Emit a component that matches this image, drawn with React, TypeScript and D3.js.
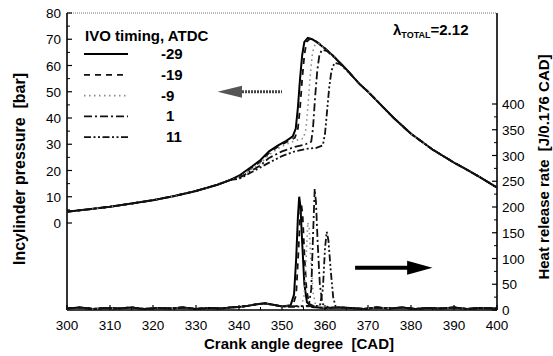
import React from 'react';
import * as d3 from 'd3';

type Pt = [number, number];

// Legend / series labels (IVO timing, ATDC)
const ivoLabels = ['-29', '-19', '-9', '1', '11'];

// X ticks (CAD)
const xTicks = [300, 310, 320, 330, 340, 350, 360, 370, 380, 390, 400];
const pTicks = [0, 10, 20, 30, 40, 50, 60, 70, 80];
const hTicks = [0, 50, 100, 150, 200, 250, 300, 350, 400];

// Cylinder pressure [bar], shared compression part
const pCompression: Pt[] = [
  [300, 4.3], [305, 5.2], [310, 6.2], [315, 7.4], [320, 8.7], [325, 10.3], [330, 12.2], [335, 14.6], [338, 16.4],
];
// Shared expansion part
const pExpansion: Pt[] = [
  [368, 53], [370, 50], [373, 45], [376, 40], [380, 34], [385, 28], [390, 23], [393, 20.3], [396, 17.5], [400, 13.5],
];
const pM29: Pt[] = [
  [340, 18], [343, 21.5], [345, 24], [347, 27.3], [349, 29.5], [351, 31.3], [352.5, 33], [353.2, 36], [353.7, 44],
  [354.2, 55], [354.7, 64], [355.2, 69], [356, 70.5], [357, 70], [358, 69], [360, 66.5], [362, 63.5], [365, 58.5],
];
const pM19: Pt[] = [
  [340, 17.7], [343, 21], [345, 23.4], [347, 26.7], [349, 29], [351, 30.8], [353, 32.5], [353.7, 36], [354.2, 44],
  [354.7, 55], [355.2, 64], [355.7, 69], [356.5, 70.2], [357.5, 69.6], [358.5, 68.6], [360, 66.5], [362, 63.5], [365, 58.5],
];
const pM9: Pt[] = [
  [340, 17.4], [343, 20.6], [345, 22.8], [347, 26], [349, 28.3], [351, 30], [353, 31.3], [355, 32.3], [355.6, 36],
  [356.1, 46], [356.6, 57], [357.1, 65], [357.7, 68], [358.5, 68.3], [360, 66.3], [362, 63.5], [365, 58.5],
];
const pP1: Pt[] = [
  [340, 17.1], [343, 20], [345, 22], [347, 24.8], [350, 27.3], [353, 29], [355.5, 30], [356.8, 31], [357.2, 36],
  [357.7, 48], [358.2, 58], [358.7, 64], [359.3, 66], [360.5, 65.5], [362, 63.3], [365, 58.5],
];
const pP11: Pt[] = [
  [340, 16.8], [343, 19.4], [345, 21.2], [347, 23], [350, 25.5], [353, 27.3], [356, 28.3], [358, 28.6], [359.5, 29.6],
  [360, 34], [360.5, 43], [361, 52], [361.5, 58], [362.2, 61], [363.5, 60.5], [365, 58.3],
];

// Heat release rate [J/0.176 CAD]
const hrBefore: Pt[] = [
  [300, 3], [303, 5], [306, 2], [309, 4], [312, 3], [315, 5], [318, 2], [321, 4], [324, 3], [327, 5], [330, 2],
  [333, 4], [336, 3], [338, 5], [340, 6], [342, 8], [344, 11], [346, 13], [348, 10], [350, 7],
];
const hrAfter: Pt[] = [
  [366, 4], [369, 2], [372, 5], [375, 3], [378, 5], [381, 2], [384, 4], [387, 3], [390, 5], [393, 2], [396, 4], [400, 3],
];
const hM29: Pt[] = [
  [352, 9], [352.8, 30], [353.3, 100], [353.7, 180], [354.0, 220], [354.3, 200], [354.7, 130], [355.2, 50], [355.8, 15],
  [357, 6], [360, 4], [363, 5],
];
const hM19: Pt[] = [
  [352.5, 8], [353.3, 30], [353.8, 110], [354.2, 180], [354.5, 205], [354.8, 185], [355.2, 110], [355.7, 40], [356.3, 12],
  [358, 5], [361, 4], [363, 5],
];
const hM9: Pt[] = [
  [352, 8], [354.5, 8], [355.2, 30], [355.6, 100], [356.0, 170], [356.3, 160], [356.7, 100], [357.2, 35], [357.8, 10],
  [360, 4], [363, 5],
];
const hP1: Pt[] = [
  [352, 7], [356.2, 8], [356.8, 40], [357.2, 140], [357.6, 235], [357.9, 210], [358.3, 130], [358.8, 50], [359.4, 12],
  [361, 4], [363, 5],
];
const hP11: Pt[] = [
  [352, 6], [358.8, 8], [359.5, 40], [360.0, 120], [360.4, 152], [360.8, 135], [361.3, 80], [361.9, 25], [362.5, 6],
  [363, 5],
];

const pressureSeries = [pM29, pM19, pM9, pP1, pP11];
const heatSeries = [hM29, hM19, hM9, hP1, hP11];
const dashes = ['none', '6 5', '1.5 3.5', '8 3 2 3', '7 2.5 2 2.5 2 2.5'];
const strokes = ['#000', '#111', '#8a8a8a', '#111', '#111'];
const widths = [2, 1.8, 1.6, 1.8, 1.8];

const FONT = 'Arial, "Liberation Sans", Helvetica, sans-serif';
const NB = '\u00a0';

export default function App() {
  const W = 553, H = 356;
  const left = 67, right = 497, top = 13, bottom = 310;
  const x = d3.scaleLinear().domain([300, 400]).range([left, right]);
  const yP = d3.scaleLinear().domain([0, 80]).range([223, top]);
  const yH = d3.scaleLinear().domain([0, 400]).range([bottom, 104]);

  const lineP = d3.line<Pt>().x(d => x(d[0])).y(d => yP(d[1]));
  const lineH = d3.line<Pt>().x(d => x(d[0])).y(d => yH(d[1]));

  const xMinor = d3.range(305, 400, 10);
  const pMinor = d3.range(5, 80, 10);
  const hMinor = d3.range(25, 400, 50);

  // arrows in data coordinates
  const la = { tip: x(335), base: x(340), tail: x(350), y: yP(50) };
  const ra = { tail: x(367), base: x(380.5), tip: x(385), y: yH(82) };

  return (
    <svg width={W} height={H} style={{ position: 'absolute', left: 0, top: 0, background: '#fff' }} fontFamily={FONT}>
      <rect x={0} y={0} width={W} height={H} fill="#fff" />
      {/* frame */}
      <line x1={left} y1={top} x2={right} y2={top} stroke="#777" strokeWidth={1} strokeDasharray="1 1" />
      <line x1={left} y1={top} x2={left} y2={bottom} stroke="#000" strokeWidth={1.6} />
      <line x1={right} y1={top} x2={right} y2={bottom} stroke="#000" strokeWidth={1.6} />
      <line x1={left} y1={bottom} x2={right} y2={bottom} stroke="#000" strokeWidth={1.6} />

      {/* x ticks */}
      {xTicks.map(t => (
        <g key={'xt' + t}>
          <line x1={x(t)} x2={x(t)} y1={bottom} y2={bottom - 5} stroke="#000" strokeWidth={1.2} />
          <text x={x(t)} y={329.5} textAnchor="middle" fontSize={13.5}>{t}</text>
        </g>
      ))}
      {xMinor.map(t => (
        <line key={'xm' + t} x1={x(t)} x2={x(t)} y1={bottom} y2={bottom - 3} stroke="#000" strokeWidth={1} />
      ))}

      {/* left ticks */}
      {pTicks.map(t => (
        <g key={'pt' + t}>
          <line x1={left} x2={left + 5} y1={yP(t)} y2={yP(t)} stroke="#000" strokeWidth={1.2} />
          <text x={61} y={yP(t) + 5} textAnchor="end" fontSize={13.5}>{t}</text>
        </g>
      ))}
      {pMinor.map(t => (
        <line key={'pm' + t} x1={left} x2={left + 3} y1={yP(t)} y2={yP(t)} stroke="#000" strokeWidth={1} />
      ))}

      {/* right ticks */}
      {hTicks.map(t => (
        <g key={'ht' + t}>
          <line x1={right} x2={right - 5} y1={yH(t)} y2={yH(t)} stroke="#000" strokeWidth={1.2} />
          <text x={502} y={yH(t) + 5} textAnchor="start" fontSize={13.5}>{t}</text>
        </g>
      ))}
      {hMinor.map(t => (
        <line key={'hm' + t} x1={right} x2={right - 3} y1={yH(t)} y2={yH(t)} stroke="#000" strokeWidth={1} />
      ))}

      {/* titles */}
      <text x={299} y={349} textAnchor="middle" fontSize={15} fontWeight="bold">{`Crank angle degree${NB}${NB}[CAD]`}</text>
      <text transform="translate(25,169) rotate(-90)" textAnchor="middle" fontSize={16} fontWeight="bold">{`Incylinder pressure${NB}${NB}[bar]`}</text>
      <text transform="translate(549,167) rotate(-90)" textAnchor="middle" fontSize={15} fontWeight="bold">{`Heat release rate${NB}${NB}[J/0.176 CAD]`}</text>

      {/* heat release curves */}
      {heatSeries.map((s, i) => (
        <path key={'h' + i} d={lineH([...hrBefore, ...s, ...hrAfter]) || ''} fill="none" stroke={strokes[i]}
          strokeWidth={widths[i]} strokeDasharray={dashes[i]} />
      ))}

      {/* pressure curves */}
      {pressureSeries.map((s, i) => (
        <path key={'p' + i} d={lineP([...pCompression, ...s, ...pExpansion]) || ''} fill="none" stroke={strokes[i]}
          strokeWidth={widths[i]} strokeDasharray={dashes[i]} />
      ))}

      {/* legend */}
      <text x={85} y={41} fontSize={15} fontWeight="bold">IVO timing, ATDC</text>
      {ivoLabels.map((lab, i) => {
        const yy = 54 + i * 20.8;
        return (
          <g key={'lg' + i}>
            <line x1={84} x2={128} y1={yy} y2={yy} stroke={strokes[i]} strokeWidth={widths[i]} strokeDasharray={dashes[i]} />
            <text x={lab.startsWith('-') ? 161 : 166} y={yy + 5} fontSize={15} fontWeight="bold">{lab}</text>
          </g>
        );
      })}

      {/* lambda */}
      <text x={393} y={35} fontSize={15} fontWeight="bold">
        λ<tspan fontSize={9} dy={3}>TOTAL</tspan><tspan dy={-3}>=2.12</tspan>
      </text>

      {/* arrows */}
      <line x1={la.base} x2={la.tail} y1={la.y} y2={la.y} stroke="#444" strokeWidth={3} strokeDasharray="2 1" />
      <path d={`M${la.tip},${la.y} L${la.base + 3},${la.y - 6} L${la.base + 3},${la.y + 6} Z`} fill="#555" />
      <line x1={ra.tail} x2={ra.base} y1={ra.y} y2={ra.y} stroke="#000" strokeWidth={4} />
      <path d={`M${ra.tip},${ra.y} L${ra.base - 6},${ra.y - 7} L${ra.base - 6},${ra.y + 7} Z`} fill="#000" />
    </svg>
  );
}
